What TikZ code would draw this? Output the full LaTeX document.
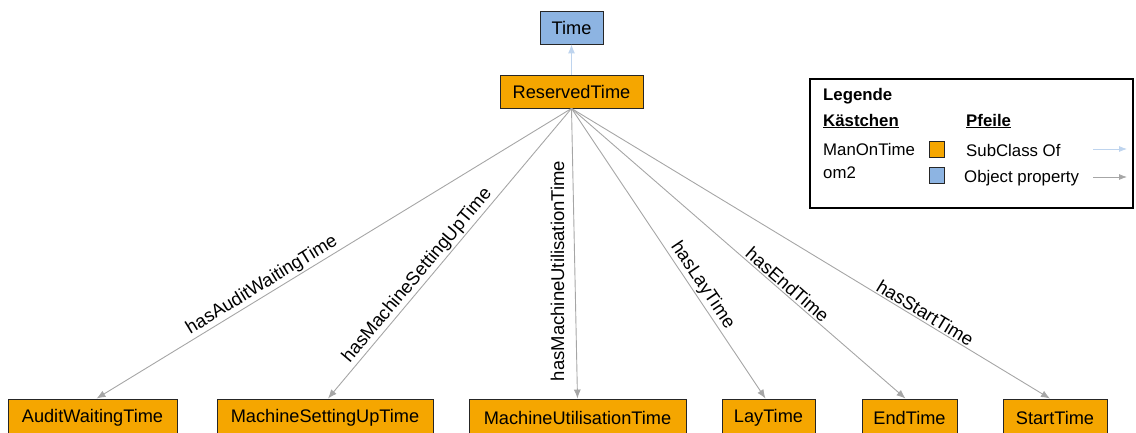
\documentclass[tikz,border=0pt]{standalone}
\usepackage{fontspec}
\setmainfont{Liberation Sans}
\usetikzlibrary{arrows.meta}
\definecolor{boxorange}{RGB}{245,166,0}
\definecolor{boxblue}{RGB}{141,180,226}
\definecolor{subarrow}{RGB}{190,212,238}
\definecolor{proparrow}{RGB}{166,166,166}
\tikzset{
  cls/.style={draw=black!85, line width=0.9pt, fill=boxorange, inner sep=0pt,
    font=\fontsize{18.2}{20}\selectfont},
  topcls/.style={cls, fill=boxblue},
  prop/.style={draw=proparrow, line width=0.9pt, -{Latex[length=9pt,width=7pt]}},
  subcl/.style={draw=subarrow, line width=1pt, -{Latex[length=9pt,width=7pt]}},
  elabelfont/.style={font=\fontsize{18.5}{20}\selectfont, inner sep=1.5pt},
  elabel/.style={elabelfont, sloped, above},
  legtext/.style={font=\fontsize{16.8}{18}\selectfont, anchor=west, inner sep=0pt},
  legsq/.style={draw=black!85, line width=0.8pt, minimum width=15pt, minimum height=16pt, inner sep=0pt},
}
\begin{document}
\begin{tikzpicture}[x=1pt,y=-1pt]
\useasboundingbox (0,0) rectangle (1136,433);
% classes
\node[topcls, minimum width=63pt, minimum height=33pt] (time) at (571.5,27.5) {Time};
\node[cls, minimum width=143pt, minimum height=33pt] (rt) at (571.5,91.5) {ReservedTime};
\node[cls, minimum width=169pt, minimum height=37pt] (aud) at (92.5,417.5) {AuditWaitingTime};
\node[cls, minimum width=216pt, minimum height=37pt] (msut) at (325,417.5) {MachineSettingUpTime};
\node[cls, minimum width=217pt, minimum height=37pt] (mut) at (577.5,417.5) {MachineUtilisationTime};
\node[cls, minimum width=93pt, minimum height=37pt] (lay) at (768.5,417.5) {LayTime};
\node[cls, minimum width=95pt, minimum height=37pt] (end) at (909.5,417.5) {EndTime};
\node[cls, minimum width=104pt, minimum height=37pt] (start) at (1055,417.5) {StartTime};
% subclass
\draw[subcl] (rt.north) -- (time.south);
% properties
\draw[prop] (rt.south) -- node[elabel, pos=0.64] {hasAuditWaitingTime} ([xshift=4pt]aud.north);
\draw[prop] (rt.south) -- node[elabel, pos=0.6] {hasMachineSettingUpTime} ([xshift=3pt]msut.north);
\draw[prop] (rt.south) -- node[elabelfont, rotate=90, anchor=south, inner ysep=10pt, pos=0.56] {hasMachineUtilisationTime} (mut.north);
\draw[prop] (rt.south) -- node[elabel, pos=0.63] {hasLayTime} ([xshift=-3pt]lay.north);
\draw[prop] (rt.south) -- node[elabel, pos=0.63] {hasEndTime} ([xshift=-4pt]end.north);
\draw[prop] (rt.south) -- node[elabel, pos=0.73] {hasStartTime} ([xshift=-5pt]start.north);
% legend
\draw[line width=2.2pt] (810,79) rectangle (1133,208);
\node[legtext, font=\fontsize{16.8}{18}\selectfont\bfseries] (lgtitle) at (823,96) {Legende};
\node[legtext, font=\fontsize{16.8}{18}\selectfont\bfseries] (lgbox) at (823,121) {\underline{Kästchen}};
\node[legtext, font=\fontsize{16.8}{18}\selectfont\bfseries] (lgarr) at (966,121) {\underline{Pfeile}};
\node[legtext] (lgman) at (823,149) {ManOnTime};
\node[legtext] (lgom) at (823,173) {om2};
\node[legsq, fill=boxorange] (sqo) at (936.5,149) {};
\node[legsq, fill=boxblue] (sqb) at (936.5,175) {};
\node[legtext] (lgsub) at (966,150) {SubClass Of};
\node[legtext] (lgobj) at (964,178) {Object property};
\coordinate (sa1) at (1093,149);
\coordinate (sa2) at (1127,149);
\coordinate (pa1) at (1093,177);
\coordinate (pa2) at (1127,177);
\draw[draw=subarrow, line width=0.8pt, -{Latex[length=8pt,width=6pt]}] (sa1) -- (sa2);
\draw[draw=proparrow, line width=0.8pt, -{Latex[length=8pt,width=6pt]}] (pa1) -- (pa2);
\end{tikzpicture}
\end{document}
